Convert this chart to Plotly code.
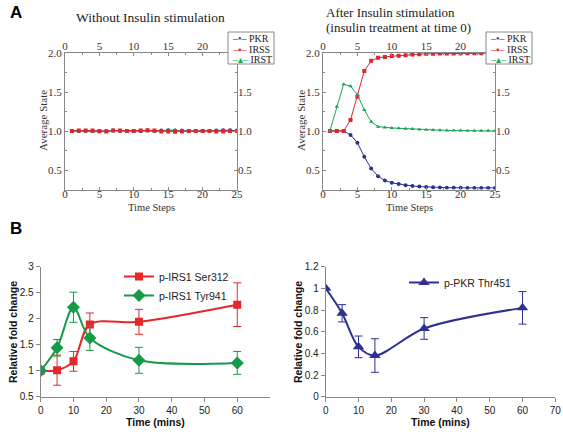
import plotly.graph_objects as go

W, H = 563, 432

# ---------------- data ----------------
steps = list(range(1, 26))
noins_pkr = [1.0, 1.0, 1.0, 1.0, 0.995, 1.0, 1.005, 1.0, 1.0, 1.0, 1.0, 1.005, 1.0,
             1.005, 1.01, 1.005, 1.005, 1.0, 1.0, 1.0, 1.0, 1.005, 1.01, 1.01, 1.005]
noins_irss = [1.0, 1.005, 1.005, 1.005, 1.0, 0.995, 1.005, 1.005, 1.0, 1.0, 1.005, 1.01, 1.005,
              0.995, 0.995, 0.99, 0.995, 1.0, 1.0, 1.0, 1.0, 0.995, 0.995, 1.0, 1.0]
noins_irst = [1.0, 1.0, 1.0, 0.99, 0.995, 1.0, 1.0, 1.0, 1.0, 1.0, 1.005, 1.0, 0.995,
              1.0, 1.005, 1.01, 1.0, 1.0, 1.0, 1.0, 1.0, 1.0, 1.0, 1.0, 1.0]

ins_pkr = [1.0, 1.0, 1.0, 0.95, 0.85, 0.67, 0.52, 0.42, 0.365, 0.335, 0.32, 0.305, 0.295,
           0.288, 0.282, 0.278, 0.275, 0.273, 0.272, 0.271, 0.27, 0.27, 0.27, 0.27, 0.27]
ins_irss = [1.0, 1.0, 1.0, 1.14, 1.44, 1.77, 1.90, 1.94, 1.95, 1.96, 1.965, 1.97, 1.98,
            1.985, 1.99, 1.99, 1.992, 1.994, 1.995, 1.996, 1.997, 1.997, 1.998, 1.998, 1.998]
ins_irst = [1.0, 1.31, 1.6, 1.575, 1.465, 1.27, 1.12, 1.055, 1.045, 1.04, 1.035, 1.03, 1.025,
            1.02, 1.015, 1.012, 1.01, 1.008, 1.006, 1.005, 1.004, 1.003, 1.002, 1.002, 1.001]

series_names = ["PKR", "IRSS", "IRST"]
a_xticks = [0, 5, 10, 15, 20, 25]
a_yticks = [0.5, 1.0, 1.5, 2.0]

time_min = [0, 5, 10, 15, 30, 60]
ser312 = [1.0, 1.01, 1.18, 1.89, 1.94, 2.27]
ser312_err = [0, 0.29, 0.19, 0.22, 0.24, 0.42]
tyr941 = [1.0, 1.44, 2.22, 1.63, 1.2, 1.15]
tyr941_err = [0, 0.16, 0.29, 0.24, 0.25, 0.22]
pkr451 = [1.0, 0.77, 0.46, 0.38, 0.63, 0.82]
pkr451_err = [0, 0.08, 0.1, 0.155, 0.1, 0.15]

# ---------------- styles ----------------
SERIF = "Liberation Serif"
SANS = "Liberation Sans"
C_PKR, C_IRSS, C_IRST = "#2b3190", "#e0262b", "#1fa35a"
C_B_RED, C_B_GREEN, C_B_BLUE = "#e8262a", "#179a47", "#2e3192"
AXC = "#888888"


def px_x(p):
    return p / W


def px_y(p):
    return 1 - p / H


fig = go.Figure()

# ---------- Panel A traces ----------
sym = {"PKR": "circle", "IRSS": "square", "IRST": "triangle-up"}
col = {"PKR": C_PKR, "IRSS": C_IRSS, "IRST": C_IRST}
glyph = {"PKR": "•", "IRSS": "▪", "IRST": "▴"}

for (xa, ya, vals, order) in [
    ("x", "y", {"PKR": noins_pkr, "IRSS": noins_irss, "IRST": noins_irst},
     ["PKR", "IRST", "IRSS"]),
    ("x2", "y2", {"PKR": ins_pkr, "IRSS": ins_irss, "IRST": ins_irst},
     ["PKR", "IRSS", "IRST"]),
]:
    for n in order:
        fig.add_trace(go.Scatter(
            x=steps, y=vals[n], name=n, mode="lines+markers",
            line=dict(color=col[n], width=1),
            marker=dict(symbol=sym[n], size=4, color=col[n]),
            xaxis=xa, yaxis=ya, showlegend=False,
        ))

# empty traces to activate the mirrored (top/right) label axes
for xa, ya in [("x5", "y5"), ("x6", "y6")]:
    fig.add_trace(go.Scatter(x=[], y=[], xaxis=xa, yaxis=ya, showlegend=False,
                             hoverinfo="skip"))

# ---------- Panel B traces ----------
fig.add_trace(go.Scatter(
    x=time_min, y=ser312, name="p-IRS1 Ser312", mode="lines+markers",
    line=dict(color=C_B_RED, width=2, shape="spline", smoothing=0.9),
    marker=dict(symbol="square", size=8, color=C_B_RED),
    error_y=dict(type="data", array=ser312_err, color=C_B_RED, thickness=1, width=4),
    xaxis="x3", yaxis="y3", legend="legend3",
))
fig.add_trace(go.Scatter(
    x=time_min, y=tyr941, name="p-IRS1 Tyr941", mode="lines+markers",
    line=dict(color=C_B_GREEN, width=2, shape="spline", smoothing=0.9),
    marker=dict(symbol="diamond", size=10, color=C_B_GREEN),
    error_y=dict(type="data", array=tyr941_err, color=C_B_GREEN, thickness=1, width=4),
    xaxis="x3", yaxis="y3", legend="legend3",
))
fig.add_trace(go.Scatter(
    x=time_min, y=pkr451, name="p-PKR Thr451", mode="lines+markers",
    line=dict(color=C_B_BLUE, width=2, shape="spline", smoothing=0.9),
    marker=dict(symbol="triangle-up", size=10, color=C_B_BLUE),
    error_y=dict(type="data", array=pkr451_err, color=C_B_BLUE, thickness=1, width=4),
    xaxis="x4", yaxis="y4", legend="legend4",
))

# ---------- axes ----------
A_Y = [px_y(189.5), px_y(53)]
A_LX = [px_x(65), px_x(237)]
A_RX = [px_x(323), px_x(495)]
B_Y = [px_y(396.7), px_y(266.7)]
B_LX = [px_x(40.7), px_x(270)]
B_RX = [px_x(325.7), px_x(555.3)]

a_tick = dict(family=SERIF, size=11, color="#333333")


def a_x(**kw):
    d = dict(range=[0, 25], tickvals=a_xticks, showgrid=False,
             zeroline=False, linecolor=AXC, linewidth=1, automargin=False,
             ticks="inside", ticklen=3, tickcolor=AXC, tickfont=a_tick,
             minor=dict(ticks="inside", ticklen=2, tickcolor=AXC, dtick=2.5))
    d.update(kw)
    return d


def a_y(**kw):
    d = dict(range=[0.25, 2.0], tickvals=a_yticks, tickformat=".1f",
             showgrid=False, zeroline=False, linecolor=AXC, automargin=False,
             linewidth=1, ticks="inside", ticklen=3, tickcolor=AXC, tickfont=a_tick,
             minor=dict(ticks="inside", ticklen=2, tickcolor=AXC, dtick=0.25))
    d.update(kw)
    return d


b_tick = dict(family=SANS, size=10, color="#222222")
b_title = dict(family=SANS, size=10.5, color="#111111")


def b_ax(**kw):
    d = dict(showgrid=False, zeroline=False, showline=True, linecolor=AXC, automargin=False,
             ticks="outside", ticklen=4, tickcolor=AXC, tickfont=b_tick)
    d.update(kw)
    return d


fig.update_layout(
    width=W, height=H, margin=dict(l=0, r=0, t=0, b=0, autoexpand=False),
    paper_bgcolor="white", plot_bgcolor="white",
    xaxis=a_x(domain=A_LX, anchor="y", showline=True, mirror=True, ticklabelstandoff=-6),
    yaxis=a_y(domain=A_Y, anchor="x", showline=True, mirror=True),
    xaxis2=a_x(domain=A_RX, anchor="y2", showline=True, mirror=True, ticklabelstandoff=-6),
    yaxis2=a_y(domain=A_Y, anchor="x2", showline=True, mirror=True),
    # top / right label axes (the last label is hidden under the legend box in the original)
    xaxis5=a_x(overlaying="x", side="top", anchor="y", showline=False,
               tickvals=a_xticks[:-1]),
    yaxis5=a_y(overlaying="y", side="right", anchor="x", showline=False,
               tickvals=a_yticks[:-1]),
    xaxis6=a_x(overlaying="x2", side="top", anchor="y2", showline=False,
               tickvals=a_xticks[:-1]),
    yaxis6=a_y(overlaying="y2", side="right", anchor="x2", showline=False,
               tickvals=a_yticks[:-1]),
    xaxis3=b_ax(domain=B_LX, anchor="y3", range=[0, 70], tickvals=[0, 10, 20, 30, 40, 50, 60]),
    yaxis3=b_ax(domain=B_Y, anchor="x3", range=[0.5, 3], dtick=0.5),
    xaxis4=b_ax(domain=B_RX, anchor="y4", range=[0, 70], dtick=10),
    yaxis4=b_ax(domain=B_Y, anchor="x4", range=[0, 1.2], dtick=0.2),
    legend3=dict(x=px_x(119), y=px_y(262), xanchor="left", yanchor="top",
                 bgcolor="rgba(0,0,0,0)", font=dict(family=SANS, size=10.5, color="#222222"),
                 itemwidth=30, tracegroupgap=0),
    legend4=dict(x=px_x(404), y=px_y(268), xanchor="left", yanchor="top",
                 bgcolor="rgba(0,0,0,0)", font=dict(family=SANS, size=10.5, color="#222222"),
                 itemwidth=30),
    showlegend=True,
)

ann = [
    dict(text="<b>A</b>", x=px_x(8), y=px_y(12), font=dict(family=SANS, size=17, color="black"),
         xanchor="left", yanchor="middle"),
    dict(text="<b>B</b>", x=px_x(8), y=px_y(228), font=dict(family=SANS, size=17, color="black"),
         xanchor="left", yanchor="middle"),
    dict(text="Without Insulin stimulation", x=px_x(150), y=px_y(18),
         font=dict(family=SERIF, size=13.5, color="#222222"), xanchor="center", yanchor="middle"),
    dict(text="After Insulin stimulation", x=px_x(324), y=px_y(13),
         font=dict(family=SERIF, size=13, color="#222222"), xanchor="left", yanchor="middle"),
    dict(text="(insulin treatment at time 0)", x=px_x(324), y=px_y(27),
         font=dict(family=SERIF, size=13, color="#222222"), xanchor="left", yanchor="middle"),
    dict(text="Average State", x=px_x(43), y=px_y(121), textangle=-90,
         font=dict(family=SERIF, size=11, color="#333333"), xanchor="center", yanchor="middle"),
    dict(text="Average State", x=px_x(301), y=px_y(121), textangle=-90,
         font=dict(family=SERIF, size=11, color="#333333"), xanchor="center", yanchor="middle"),
    dict(text="Time Steps", x=px_x(151), y=px_y(207.5),
         font=dict(family=SERIF, size=10.5, color="#333333"), xanchor="center", yanchor="middle"),
    dict(text="Time Steps", x=px_x(409), y=px_y(207.5),
         font=dict(family=SERIF, size=10.5, color="#333333"), xanchor="center", yanchor="middle"),
    dict(text="<b>Relative fold change</b>", x=px_x(13), y=px_y(332), textangle=-90,
         font=b_title, xanchor="center", yanchor="middle"),
    dict(text="<b>Relative fold change</b>", x=px_x(298), y=px_y(332), textangle=-90,
         font=b_title, xanchor="center", yanchor="middle"),
    dict(text="<b>Time (mins)</b>", x=px_x(155), y=px_y(422),
         font=b_title, xanchor="center", yanchor="middle"),
    dict(text="<b>Time (mins)</b>", x=px_x(440), y=px_y(422),
         font=b_title, xanchor="center", yanchor="middle"),
]

# compact legends for panel A
shapes = []
for bx in (228, 486):
    shapes.append(dict(type="rect", xref="paper", yref="paper",
                       x0=px_x(bx), x1=px_x(bx + 46), y0=px_y(64), y1=px_y(32),
                       fillcolor="white", line=dict(color="#888888", width=1), layer="above"))
    for i, n in enumerate(series_names):
        yy = 38.5 + 10.5 * i
        ann.append(dict(
            text=f'<span style="color:{col[n]}">–{glyph[n]}–</span> {n}',
            x=px_x(bx + 2), y=px_y(yy), xanchor="left", yanchor="middle",
            font=dict(family=SERIF, size=10, color="#222222")))

for a in ann:
    a.update(xref="paper", yref="paper", showarrow=False)
fig.update_layout(annotations=ann, shapes=shapes)

fig.write_html("out.html", config={"displayModeBar": False},
               post_script="document.body.style.margin='0';")
